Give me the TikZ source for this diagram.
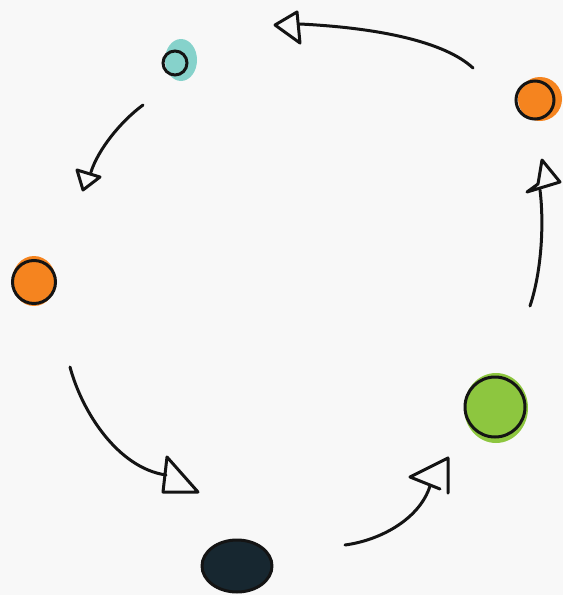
\documentclass[tikz,border=0pt]{standalone}
\usetikzlibrary{calc}
\definecolor{bg}{HTML}{F8F8F8}
\definecolor{tealc}{HTML}{86D2CB}
\definecolor{orangec}{HTML}{F5841F}
\definecolor{greenc}{HTML}{8DC63F}
\definecolor{darkc}{HTML}{172730}
\tikzset{
  ink/.style={line width=3pt, line cap=round, line join=round, black!92},
  dot/.style={circle, draw=black!92, line width=3pt, inner sep=0pt},
  headtri/.style={ink}
}
\begin{document}
\begin{tikzpicture}[x=1pt,y=-1pt]
\fill[bg] (0,0) rectangle (563,595);
\useasboundingbox (0,0) rectangle (563,595);
% colour blobs
\fill[tealc] (181,60) ellipse [x radius=16, y radius=21];
\fill[orangec] (540,99) ellipse [x radius=22, y radius=22];
\fill[orangec] (34,281) ellipse [x radius=22, y radius=25];
\fill[greenc] (496,408) ellipse [x radius=32, y radius=35];
\fill[darkc] (237,566) ellipse [x radius=34, y radius=26];
% nodes
\node[dot, minimum size=24pt] (n1) at (175,63) {};
\node[dot, minimum size=38pt] (n2) at (535,100) {};
\node[dot, minimum size=43pt] (n3) at (34,282) {};
\node[dot, minimum size=60pt] (n4) at (495,407) {};
\draw[ink] (237,566) ellipse [x radius=35, y radius=26];
\coordinate (n5) at (237,566);
% connector anchors
\coordinate (a1s) at (473,68);  \coordinate (a1e) at (300,24);
\coordinate (a2s) at (143,105); \coordinate (a2e) at (91,172);
\coordinate (a3s) at (70,367);  \coordinate (a3e) at (166,475);
\coordinate (a4s) at (345,545); \coordinate (a4e) at (430,486);
\coordinate (a5s) at (530,306); \coordinate (a5e) at (540,190);
% connectors
\draw[ink] (a1s) .. controls (445,42) and (380,28) .. (a1e);
\draw[ink] (a2s) .. controls (120,122) and (98,150) .. (a2e);
\draw[ink] (a3s) .. controls (82,412) and (118,468) .. (a3e);
\draw[ink] (a4s) .. controls (382,540) and (420,518) .. (a4e);
\draw[ink] (a5s) .. controls (542,270) and (544,222) .. (a5e);
% arrowheads
\draw[headtri] (275,25) -- (297,12) -- (300,43) -- cycle;
\draw[headtri] (77,170) -- (100,177) -- (83,190) -- cycle;
\draw[headtri] (167,457) -- (163,492) -- (198,492) -- cycle;
\draw[headtri] (410,477) -- (448,458) -- (448,493);
\draw[headtri] (410,477) -- (440,489);
\draw[headtri] (542,160) -- (560,182) -- (527,192) -- (538,184) -- (542,160);
\end{tikzpicture}
\end{document}
